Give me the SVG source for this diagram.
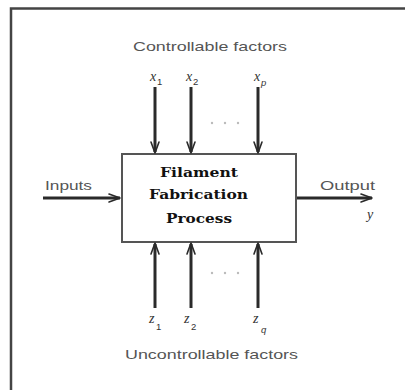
<svg xmlns="http://www.w3.org/2000/svg" width="405" height="390" viewBox="0 0 405 390">
<defs>
<style>
.frame{fill:none;stroke:#444;stroke-width:2.5}
.box{fill:#fff;stroke:#555;stroke-width:2}
.ln{stroke:#2a2a2a;stroke-width:3;fill:none}
.hd{stroke:#2a2a2a;stroke-width:1.6;fill:none;stroke-linecap:round;stroke-linejoin:round}
.lbl{font-family:"Liberation Sans",Arial,sans-serif;font-size:13.5px;fill:#555}
.var{font-family:"Liberation Serif","Times New Roman",serif;font-style:italic;font-size:14px;fill:#333}
.sub{font-family:"Liberation Sans",Arial,sans-serif;font-size:9.5px;fill:#333}
.title{font-family:"DejaVu Serif",serif;font-weight:bold;font-size:12px;fill:#111}
.dots{fill:#bbb}
</style>
</defs>
<path class="frame" d="M11,390 V8.5 H405"/>
<g id="process">
<rect class="box" x="122" y="154" width="174" height="88"/>
<text class="title" x="160" y="177" textLength="78" lengthAdjust="spacingAndGlyphs">Filament</text>
<text class="title" x="149" y="199" textLength="99" lengthAdjust="spacingAndGlyphs">Fabrication</text>
<text class="title" x="166" y="223" textLength="66" lengthAdjust="spacingAndGlyphs">Process</text>
</g>
<g id="labels">
<text class="lbl" x="133" y="51" textLength="154" lengthAdjust="spacingAndGlyphs">Controllable factors</text>
<text class="lbl" x="125" y="359" textLength="173" lengthAdjust="spacingAndGlyphs">Uncontrollable factors</text>
<text class="lbl" x="45" y="190" textLength="47" lengthAdjust="spacingAndGlyphs">Inputs</text>
<text class="lbl" x="320" y="190" textLength="55" lengthAdjust="spacingAndGlyphs">Output</text>
<text class="var" x="367" y="219">y</text>
<text class="var" x="150" y="81">x</text><text class="sub" x="157" y="85">1</text>
<text class="var" x="186" y="81">x</text><text class="sub" x="193" y="85">2</text>
<text class="var" x="254" y="81">x</text><text class="sub" x="261" y="86" font-style="italic">p</text>
<text class="var" x="149" y="323">z</text><text class="sub" x="156" y="330">1</text>
<text class="var" x="184" y="323">z</text><text class="sub" x="191" y="330">2</text>
<text class="var" x="253" y="323">z</text><text class="sub" x="261" y="333" font-style="italic">q</text>
</g>
<g id="dots" class="dots">
<circle cx="212" cy="123" r="1.2"/><circle cx="225" cy="123" r="1.2"/><circle cx="238" cy="123" r="1.2"/>
<circle cx="212" cy="273" r="1.2"/><circle cx="225" cy="273" r="1.2"/><circle cx="238" cy="273" r="1.2"/>
</g>
<g id="connectors">
<line class="ln" x1="155" y1="87" x2="155" y2="152"/><path class="hd" d="M151,142 L155,153 L159,142"/>
<line class="ln" x1="191" y1="87" x2="191" y2="152"/><path class="hd" d="M187,142 L191,153 L195,142"/>
<line class="ln" x1="258" y1="87" x2="258" y2="152"/><path class="hd" d="M254,142 L258,153 L262,142"/>
<line class="ln" x1="155" y1="308" x2="155" y2="244"/><path class="hd" d="M151,254 L155,243 L159,254"/>
<line class="ln" x1="191" y1="308" x2="191" y2="244"/><path class="hd" d="M187,254 L191,243 L195,254"/>
<line class="ln" x1="258" y1="308" x2="258" y2="244"/><path class="hd" d="M254,254 L258,243 L262,254"/>
<line class="ln" x1="43" y1="198" x2="120" y2="198"/><path class="hd" d="M109,194 L120,198 L109,202"/>
<line class="ln" x1="297" y1="198" x2="372" y2="198"/><path class="hd" d="M361,194 L372,198 L361,202"/>
</g>
</svg>
